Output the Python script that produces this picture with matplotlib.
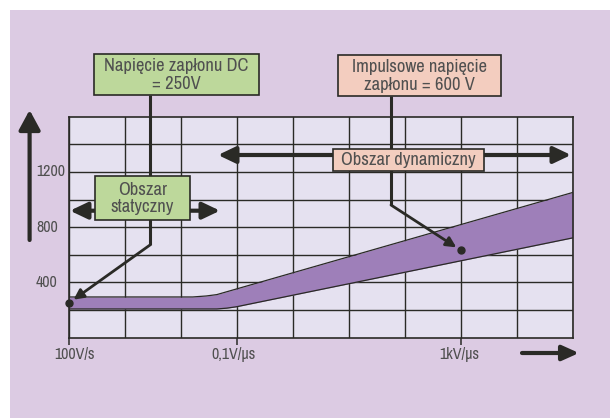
import matplotlib
matplotlib.use("Agg")
import matplotlib.pyplot as plt
from matplotlib import font_manager as fm
from matplotlib.patches import Rectangle, FancyArrowPatch
from matplotlib.lines import Line2D
import numpy as np

# ---------------- data ----------------
# x: rate of voltage rise in V/us (log scale, 100 V/s = 1e-4 V/us)
upper_x = [1e-4, 10**(2.21 - 4), 10**(2.45 - 4), 10**(2.64 - 4), 1e5]
upper_y = [295, 295, 302, 312, 1052]
lower_x = [1e-4, 10**(2.64 - 4), 10**(2.82 - 4), 10**(2.99 - 4), 1e5]
lower_y = [208, 208, 214, 224, 723]
xtick_vals = [1e-4, 1e-1, 1e3]
xtick_labels = ["100V/s", "0,1V/µs", "1kV/µs"]
ytick_vals = [400, 800, 1200]
ytick_labels = ["400", "800", "1200"]
dc_point = (1e-4, 252)
imp_point = (1e3, 632)
box_dc = "Napięcie zapłonu DC\n= 250V"
box_static = "Obszar\nstatyczny"
box_imp = "Impulsowe napięcie\nzapłonu = 600 V"
box_dyn = "Obszar dynamiczny"

# ---------------- style ----------------
names = sorted({f.name for f in fm.fontManager.ttflist})
narrow = [n for n in names if "Narrow" in n or "Condensed" in n]
FAMILY = narrow[0] if narrow else "DejaVu Sans"
IS_NARROW = bool(narrow)

W, H = 610, 418
BG = "#dccbe3"
PLOT_BG = "#e5e1f0"
BAND = "#9e7fb9"
GREEN = "#bdd89b"
SALMON = "#f3cdbf"
DARK = "#2a2a26"
TXT = "#505050"
FONT = dict(family=FAMILY)
TICK_FS = 11.5 if IS_NARROW else 10.5
BOX_FS = 13.3 if IS_NARROW else 11.2

fig = plt.figure(figsize=(W / 100, H / 100), dpi=100)
fig.patch.set_facecolor("white")


def P(x, y):
    return (x / W, 1 - y / H)


fig.patches.append(Rectangle(P(10, 418), (W - 10) / W, (H - 10) / H,
                             transform=fig.transFigure, facecolor=BG,
                             edgecolor="none", zorder=-10))

L, R, T, B = 69, 573, 116.7, 337.7
ax = fig.add_axes([L / W, 1 - B / H, (R - L) / W, (B - T) / H])
ax.set_facecolor(PLOT_BG)
ax.set_xscale("log")
ax.set_xlim(1e-4, 1e5)
ax.set_ylim(0, 1600)

for d in range(-4, 6):
    ax.axvline(10.0 ** d, color=DARK, lw=1.0, zorder=1)
for v in range(200, 1600, 200):
    ax.axhline(v, color=DARK, lw=1.0, zorder=1)
for s in ax.spines.values():
    s.set_color(DARK)
    s.set_linewidth(1.2)

# band
xs = np.logspace(-4, 5, 400)
lo = np.interp(np.log10(xs), np.log10(lower_x), lower_y)
up = np.interp(np.log10(xs), np.log10(upper_x), upper_y)
ax.fill_between(xs, lo, up, color=BAND, zorder=2, lw=0)
ax.plot(upper_x, upper_y, color=DARK, lw=0.9, zorder=3)
ax.plot(lower_x, lower_y, color=DARK, lw=0.9, zorder=3)

# ticks
ax.set_xticks(xtick_vals)
ax.set_xticklabels([])
ax.minorticks_off()
ax.tick_params(axis="x", length=5, width=1.1, color=DARK, direction="out")
ax.set_yticks([])
offs = [6, -3, -2]
for xv, lab, dx in zip(xtick_vals, xtick_labels, offs):
    ax.annotate(lab, xy=(xv, 0), xytext=(dx, -17), textcoords="offset pixels",
                ha="center", va="center", color=TXT, fontsize=TICK_FS,
                annotation_clip=False, **FONT)
for yv, lab in zip(ytick_vals, ytick_labels):
    ax.annotate(lab, xy=(1e-4, yv), xytext=(-33, 0), textcoords="offset pixels",
                ha="left", va="center", color=TXT, fontsize=TICK_FS,
                annotation_clip=False, **FONT)

# points
ax.plot(*dc_point, "o", color=DARK, ms=5, zorder=6, clip_on=False)
ax.plot(*imp_point, "o", color=DARK, ms=5, zorder=6, clip_on=False)


def fline(pts, lw=2.2):
    xs_ = [P(*p)[0] for p in pts]
    ys_ = [P(*p)[1] for p in pts]
    fig.lines.append(Line2D(xs_, ys_, transform=fig.transFigure, color=DARK,
                            lw=lw, zorder=4, solid_capstyle="butt"))


def farrow(p0, p1, style, hl, hw, lw=2.6):
    fig.patches.append(FancyArrowPatch(P(*p0), P(*p1), transform=fig.transFigure,
                                       arrowstyle=f"{style},head_length={hl},head_width={hw}",
                                       color=DARK, lw=lw, zorder=4,
                                       shrinkA=0, shrinkB=0, mutation_scale=1))


def fbox(x0, y0, x1, y1, color, text):
    fig.patches.append(Rectangle(P(x0, y1), (x1 - x0) / W, (y1 - y0) / H,
                                 transform=fig.transFigure, facecolor=color,
                                 edgecolor=DARK, lw=1.2, zorder=7))
    fig.text(*P((x0 + x1) / 2, (y0 + y1) / 2 + 0.5), text, ha="center", va="center",
             color=TXT, fontsize=BOX_FS, linespacing=1.12, zorder=8, **FONT)


# axis arrows
farrow((29.6, 240), (29.6, 110), "-|>", 12, 6.5, lw=3)
farrow((522, 353), (579, 353), "-|>", 10, 4.5, lw=3)

# region arrows
farrow((70, 210.7), (220, 210.7), "<|-|>", 10.5, 5, lw=3)
farrow((218, 155), (571, 155), "<|-|>", 10.5, 5, lw=3)

# leader lines
fline([(150, 95), (150, 245)])
ax.annotate("", xy=dc_point, xycoords="data",
            xytext=P(150, 245), textcoords="figure fraction",
            arrowprops=dict(arrowstyle="-|>,head_length=0.5,head_width=0.25",
                            color=DARK, lw=2.0, shrinkA=0, shrinkB=4,
                            mutation_scale=12),
            annotation_clip=False, zorder=5)
fline([(391, 96), (391, 205)])
ax.annotate("", xy=imp_point, xycoords="data",
            xytext=P(391, 205), textcoords="figure fraction",
            arrowprops=dict(arrowstyle="-|>,head_length=0.5,head_width=0.25",
                            color=DARK, lw=2.0, shrinkA=0, shrinkB=4,
                            mutation_scale=12),
            annotation_clip=False, zorder=5)

# boxes
fbox(94, 54, 259, 95, GREEN, box_dc)
fbox(95, 176, 190, 220, GREEN, box_static)
fbox(338, 55, 501, 96, SALMON, box_imp)
fbox(333, 149, 484, 171, SALMON, box_dyn)

fig.savefig("out.png", dpi=100)
